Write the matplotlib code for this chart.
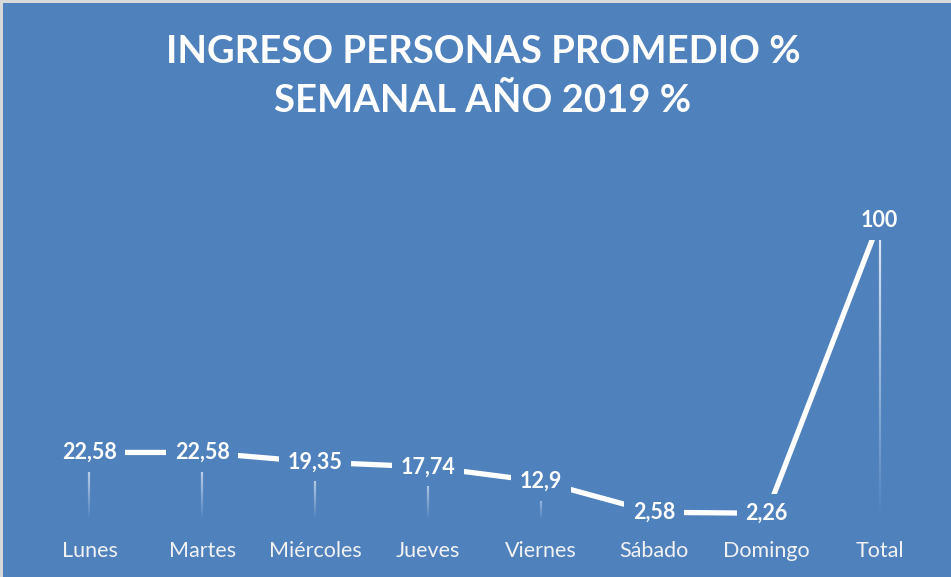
import matplotlib
matplotlib.use("Agg")
import matplotlib.pyplot as plt
import numpy as np
from matplotlib.collections import LineCollection
from matplotlib.patches import Rectangle

categories = ["Lunes", "Martes", "Miércoles", "Jueves", "Viernes", "Sábado", "Domingo", "Total"]
values = [22.58, 22.58, 19.35, 17.74, 12.9, 2.58, 2.26, 100]
title_lines = ["INGRESO PERSONAS PROMEDIO %", "SEMANAL AÑO 2019 %"]

BLUE = "#4F81BD"
W, H = 951, 577
fig = plt.figure(figsize=(W / 100, H / 100), dpi=100)
fig.patch.set_facecolor("#D9D9D9")
fig.patches.append(Rectangle((3 / W, 0), 1, 1 - 3 / H, transform=fig.transFigure,
                             facecolor=BLUE, edgecolor="none", zorder=0))

ax = fig.add_axes([33 / W, (H - 520) / H, (936 - 33) / W, (520 - 161) / H])
ax.set_zorder(2)
ax.set_facecolor("none")
ax.set_xlim(-0.5, len(categories) - 0.5)
ax.set_ylim(0, 120)
for s in ax.spines.values():
    s.set_visible(False)
ax.set_yticks([])
x = np.arange(len(categories))
ax.set_xticks(x)
ax.set_xticklabels(categories, fontsize=15.5, color="#F2F2F2", family="Lato")
ax.tick_params(axis="x", length=0, pad=15)

# gradient drop lines
for xi, v in zip(x, values):
    n = 60
    ys = np.linspace(v, 0, n + 1)
    segs = [[(xi, ys[i]), (xi, ys[i + 1])] for i in range(n)]
    alphas = np.linspace(0.95, 0.0, n)
    cols = [(0.93, 0.95, 0.98, a) for a in alphas]
    ax.add_collection(LineCollection(segs, colors=cols, linewidths=1.6, zorder=1))

ax.plot(x, values, color="white", lw=3.8, zorder=2, solid_capstyle="butt")

def fmt(v):
    return f"{v:g}".replace(".", ",")

for xi, v in zip(x, values):
    ax.text(xi, v, fmt(v), ha="center", va="center", fontsize=15.5, fontweight="bold",
            color="white", family="Lato", zorder=3,
            bbox=dict(boxstyle="square,pad=0.4", facecolor=BLUE, edgecolor="none"))

for i, line in enumerate(title_lines):
    fig.text(483 / W, 1 - (52 + 48 * i) / H, line, ha="center", va="center", fontsize=27.5,
             fontweight="bold", color="white", family="Lato", zorder=3)

fig.savefig("out.png", dpi=100, facecolor=fig.get_facecolor())
